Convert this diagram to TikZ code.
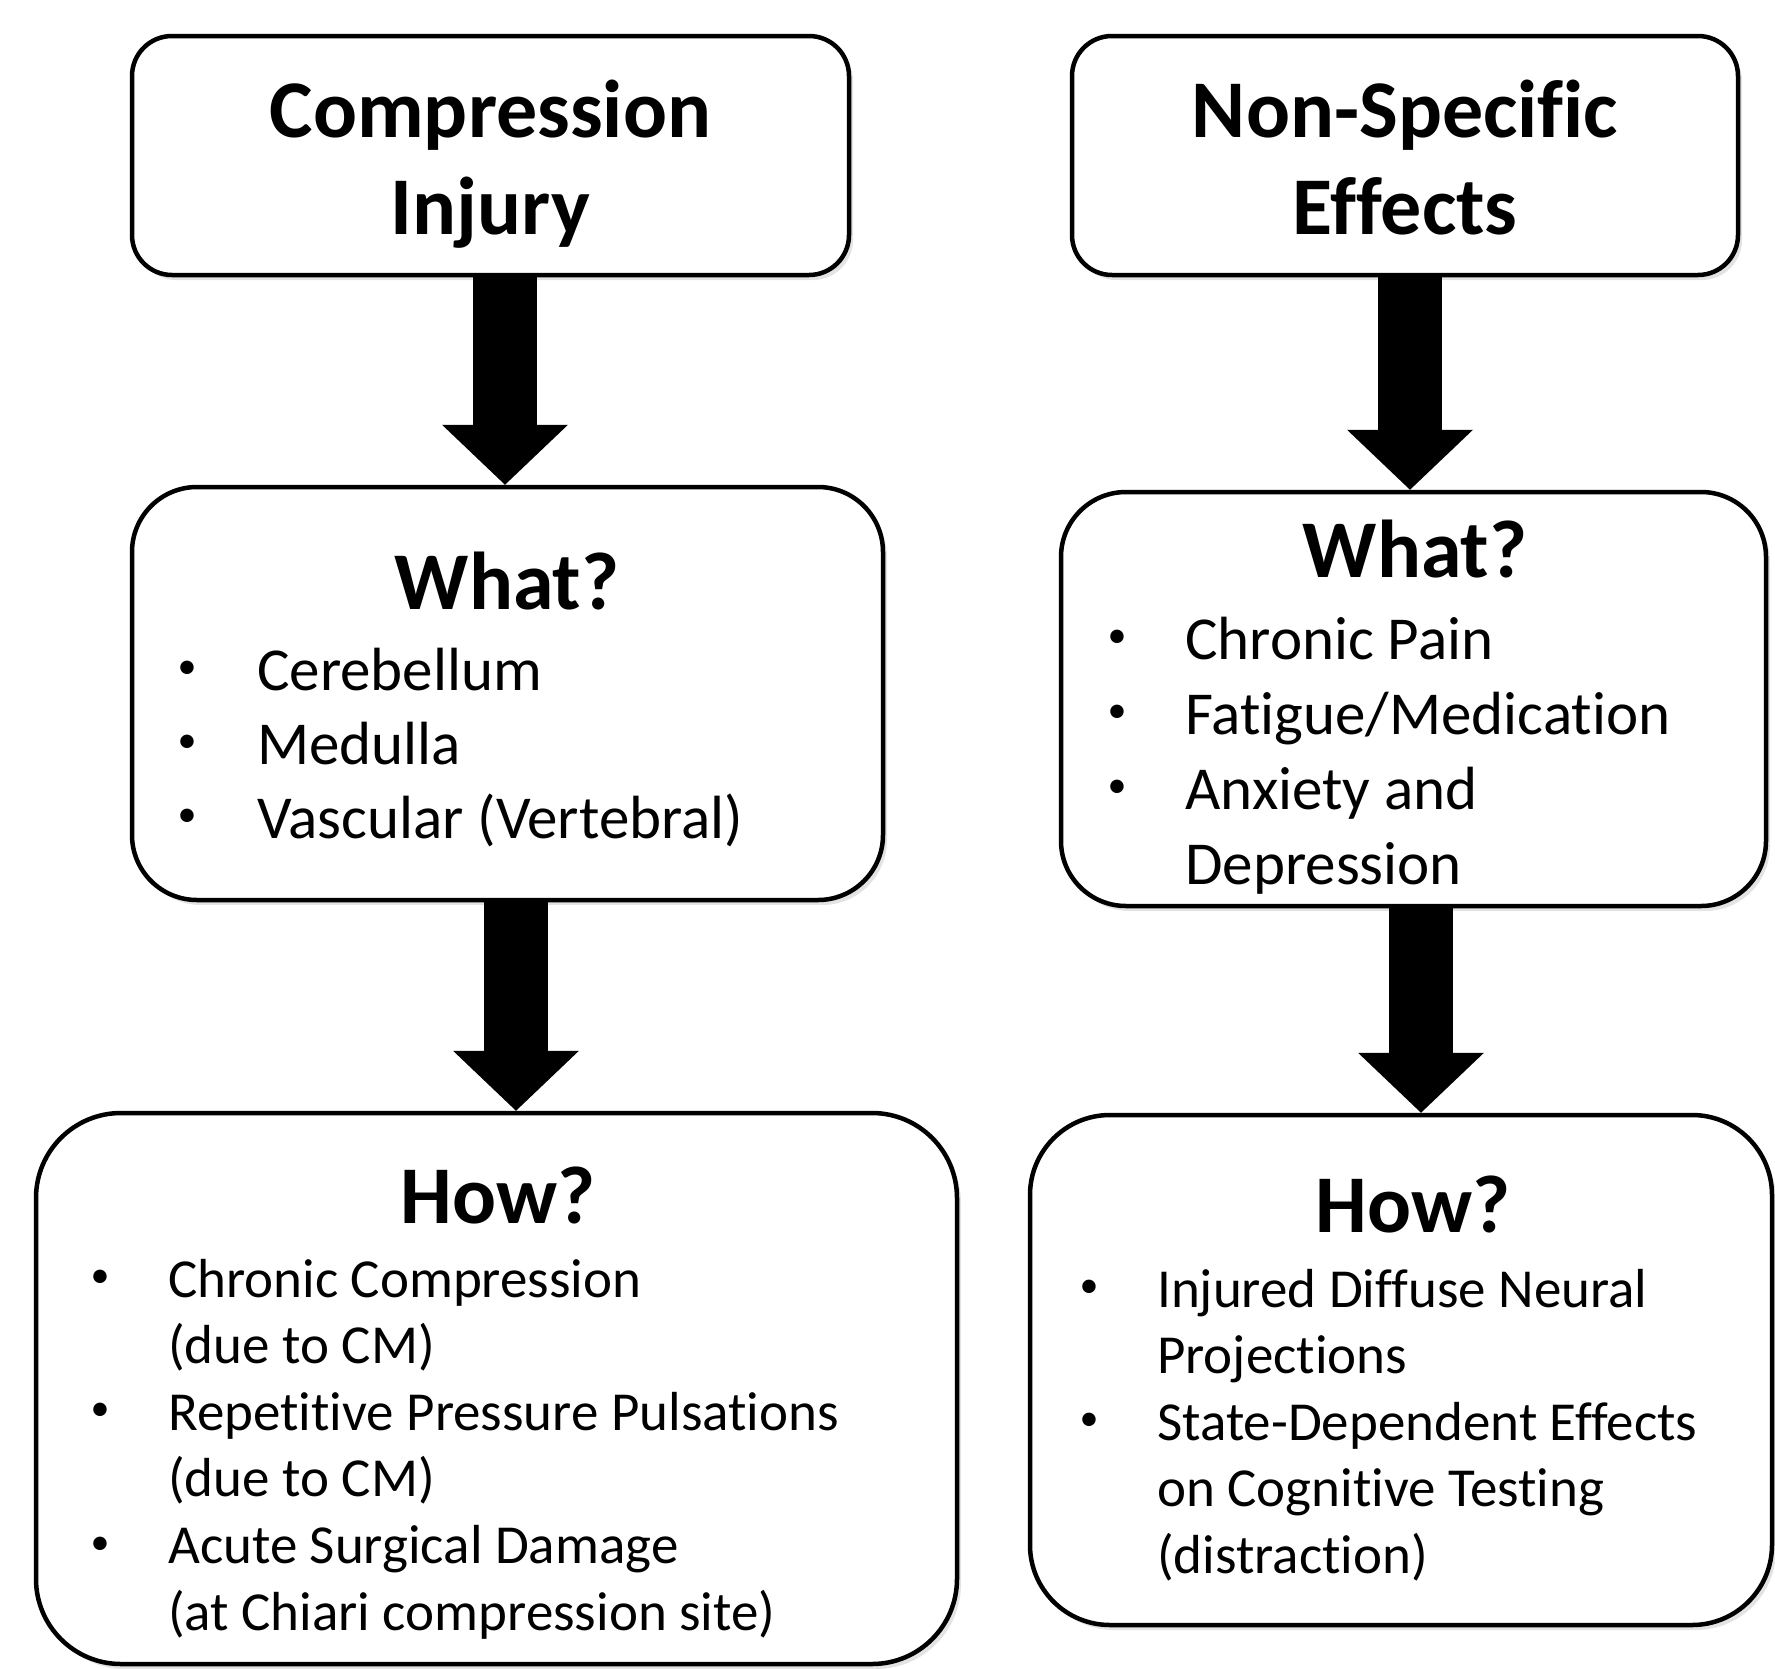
\documentclass[tikz,border=0pt]{standalone}
\usepackage{fontspec}
\setmainfont{Carlito}[Ligatures=NoCommon]
\usetikzlibrary{arrows.meta,calc,shadows}
\tikzset{%
  box/.style      = {shape=rectangle, draw, line width=4.5pt, fill=white,%
                     drop shadow={opacity=0.22, shadow xshift=4pt, shadow yshift=-5pt}},%
  head/.style     = {inner sep=0pt, align=center, font=\fontsize{82}{97}\selectfont\bfseries},%
  item/.style     = {inner sep=0pt, anchor=base west},%
  bul/.style      = {inner sep=0pt, anchor=center, font=\fontsize{38}{38}\selectfont},%
  bigarrow/.style = {line width=64pt, -{Triangle[width=126pt,length=60pt,line width=0pt]}}%
}
\newcommand{\whatfont}{\fontsize{61}{74}\selectfont}
\newcommand{\howfont}{\fontsize{55}{66}\selectfont}

\begin{document}
\begin{tikzpicture}[x=1pt,y=-1pt]
	\useasboundingbox (0,0) rectangle (1775,1668);
	% boxes
	\node [box, rounded corners=40pt, minimum width=717pt, minimum height=239pt] (inj)   at (490.5,155.5) {};
	\node [box, rounded corners=40pt, minimum width=666pt, minimum height=239pt] (nse)   at (1405,155.5) {};
	\node [box, rounded corners=65pt, minimum width=751pt, minimum height=413pt] (whatL) at (507.5,693.5) {};
	\node [box, rounded corners=65pt, minimum width=705pt, minimum height=414pt] (whatR) at (1413.5,699) {};
	\node [box, rounded corners=85pt, minimum width=921pt, minimum height=551pt] (howL)  at (496.5,1388.5) {};
	\node [box, rounded corners=80pt, minimum width=742pt, minimum height=510pt] (howR)  at (1401,1370) {};
	% arrows
	\draw [bigarrow] ($(inj.south)+(14.5,0)$) -- ($(whatL.north)+(-2.5,0)$);
	\draw [bigarrow] ($(whatL.south)+(8.5,0)$) -- ($(howL.north)+(19.5,0)$);
	\draw [bigarrow] ($(nse.south)+(5,0)$) -- ($(whatR.north)+(-3.5,0)$);
	\draw [bigarrow] ($(whatR.south)+(7.5,0)$) -- ($(howR.north)+(20,0)$);
	% headings (base = last line)
	\node [head, anchor=base] (injT)   at (490.5,234)  {Compression\\Injury};
	\node [head, anchor=base] (nseT)   at (1405,234)   {Non-Specific\\Effects};
	\node [head, anchor=base] (whatLT) at (507,609)    {What?};
	\node [head, anchor=base] (whatRT) at (1415,577)   {What?};
	\node [head, anchor=base] (howLT)  at (498,1223)   {How?};
	\node [head, anchor=base] (howRT)  at (1413,1232)  {How?};
	% lists
	\foreach \b/\t [count=\i from 0] in {1/Cerebellum, 1/Medulla, 1/{Vascular (Vertebral)}} {
		\node [item, font=\whatfont] (wl-\i) at (257,690+74*\i) {\t};
		\ifnum\b=1 \node [bul] (wl-b\i) at (187,670+74*\i) {•}; \fi
	}
	\foreach \b/\t [count=\i from 0] in {1/Chronic Pain, 1/{Fatigue/Medication}, 1/Anxiety and, 0/Depression} {
		\node [item, font=\whatfont] (wr-\i) at (1185,659+75*\i) {\t};
		\ifnum\b=1 \node [bul] (wr-b\i) at (1117,639+75*\i) {•}; \fi
	}
	\foreach \b/\t [count=\i from 0] in {1/Chronic Compression, 0/{(due to CM)}, 1/Repetitive Pressure Pulsations,%
			0/{(due to CM)}, 1/Acute Surgical Damage, 0/{(at Chiari compression site)}} {
		\node [item, font=\howfont] (hl-\i) at (168,1297+66.6*\i) {\t};
		\ifnum\b=1 \node [bul] (hl-b\i) at (100,1279+66.6*\i) {•}; \fi
	}
	\foreach \b/\t [count=\i from 0] in {1/Injured Diffuse Neural, 0/Projections, 1/State-Dependent Effects,%
			0/on Cognitive Testing, 0/{(distraction)}} {
		\node [item, font=\howfont] (hr-\i) at (1157,1307+66.6*\i) {\t};
		\ifnum\b=1 \node [bul] (hr-b\i) at (1089,1289+66.6*\i) {•}; \fi
	}
\end{tikzpicture}
\end{document}
